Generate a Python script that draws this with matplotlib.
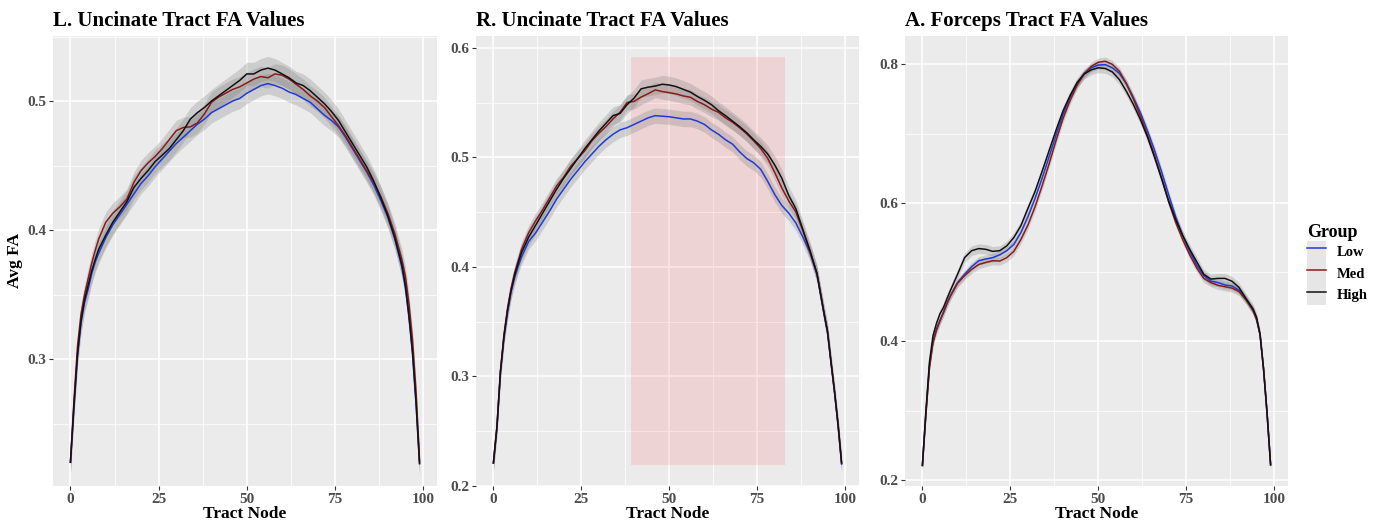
import matplotlib
matplotlib.use('Agg')
import matplotlib.pyplot as plt
from matplotlib.patches import Rectangle, Patch
from matplotlib.lines import Line2D
from matplotlib.legend_handler import HandlerTuple
from matplotlib.ticker import FormatStrFormatter, MultipleLocator

# ---------------- data ----------------
nodes = [0, 1, 2, 3, 4, 5, 6, 7, 8, 10, 12, 14, 16, 18, 20, 22, 24, 26, 28, 30,
         32, 34, 36, 38, 40, 42, 44, 46, 48, 50, 52, 54, 56, 58, 60, 62, 64, 66,
         68, 70, 72, 74, 76, 78, 80, 82, 84, 86, 88, 90, 92, 94, 95, 96, 97, 98, 99]

groups = ['Low', 'Med', 'High']

# L. Uncinate
L_low = [.220, .262, .302, .328, .344, .354, .366, .375, .382, .394, .404, .412, .420, .428, .436, .442, .449, .455, .461, .467,
         .472, .477, .482, .486, .491, .494, .497, .500, .502, .506, .509, .512, .5135, .512, .510, .507, .505, .502,
         .499, .494, .489, .485, .480, .472, .463, .454, .445, .435, .423, .410, .393, .371, .355, .332, .304, .265, .219]
L_med = [.220, .268, .310, .335, .350, .362, .374, .384, .393, .406, .413, .418, .424, .437, .446, .452, .457, .463, .470, .477,
         .4795, .480, .483, .490, .499, .503, .506, .509, .511, .514, .517, .519, .518, .521, .520, .517, .513, .509,
         .504, .500, .495, .488, .481, .473, .464, .455, .446, .437, .426, .413, .397, .377, .364, .343, .315, .275, .221]
L_high = [.220, .265, .304, .330, .346, .357, .368, .377, .385, .396, .406, .414, .422, .433, .440, .446, .453, .458, .463, .470,
          .477, .486, .491, .495, .500, .504, .508, .512, .516, .521, .521, .524, .5255, .524, .521, .518, .514, .512,
          .508, .503, .498, .492, .485, .476, .467, .458, .449, .438, .425, .411, .394, .373, .357, .334, .306, .267, .219]

# R. Uncinate
R_low = [.221, .253, .304, .335, .358, .377, .390, .400, .409, .423, .431, .441, .451, .462, .471, .480, .488, .496, .503, .510,
         .516, .521, .525, .527, .530, .533, .536, .538, .5375, .537, .536, .535, .535, .533, .530, .525, .521, .516,
         .512, .505, .499, .495, .489, .478, .466, .456, .449, .440, .427, .413, .393, .357, .340, .312, .285, .255, .220]
R_med = [.221, .254, .305, .338, .362, .380, .394, .405, .416, .431, .442, .452, .463, .474, .482, .492, .499, .506, .515, .522,
         .528, .535, .541, .550, .551, .555, .558, .5615, .560, .559, .5578, .556, .5548, .551, .548, .544, .541, .536,
         .532, .527, .5215, .515, .508, .499, .486, .472, .460, .450, .433, .414, .394, .358, .341, .313, .286, .256, .221]
R_high = [.221, .254, .304, .337, .360, .378, .392, .403, .413, .427, .438, .449, .460, .471, .481, .490, .499, .508, .516, .524,
          .531, .538, .540, .548, .554, .5625, .564, .565, .5667, .566, .5645, .562, .5595, .5555, .552, .548, .5425, .538,
          .533, .528, .5225, .516, .510, .503, .493, .481, .465, .453, .434, .415, .394, .358, .341, .313, .286, .256, .221]

# A. Forceps
F_low = [.221, .297, .365, .400, .418, .430, .442, .455, .466, .485, .497, .508, .5165, .519, .521, .525, .531, .540, .557, .580,
         .606, .635, .666, .698, .728, .753, .772, .787, .795, .799, .7995, .795, .787, .772, .752, .730, .704, .676,
         .645, .612, .580, .553, .530, .510, .495, .487, .485, .4815, .480, .474, .461, .445, .432, .410, .360, .296, .222]
F_med = [.221, .295, .362, .398, .416, .430, .442, .455, .466, .484, .495, .504, .511, .514, .5165, .516, .521, .530, .547, .568,
         .594, .624, .656, .690, .722, .748, .770, .786, .797, .803, .8045, .800, .790, .772, .750, .725, .698, .668,
         .636, .602, .572, .547, .525, .506, .491, .485, .481, .479, .477, .472, .460, .445, .432, .410, .360, .296, .222]
F_high = [.221, .300, .370, .408, .426, .440, .449, .462, .474, .497, .521, .531, .534, .533, .530, .531, .538, .550, .567, .592,
          .616, .645, .675, .705, .733, .755, .774, .786, .792, .795, .794, .789, .778, .761, .742, .720, .695, .666,
          .635, .603, .576, .553, .533, .515, .497, .490, .491, .491, .487, .478, .462, .447, .435, .410, .360, .296, .222]

# standard-error half widths of the ribbons (Low, Med, High)
se_L = [0.008, 0.008, 0.009]
se_R = [0.007, 0.007, 0.008]
se_F = [0.006, 0.006, 0.007]

# highlighted region in the right uncinate panel
highlight_nodes = [39, 83]
highlight_fa = [0.219, 0.5915]

titles = ['L. Uncinate Tract FA Values', 'R. Uncinate Tract FA Values', 'A. Forceps Tract FA Values']

# ---------------- style ----------------
colors = ['#1f3bd8', '#8b1a1a', '#111111']
FONT = 'Liberation Serif'
plt.rcParams['font.family'] = [FONT, 'DejaVu Serif']
plt.rcParams['font.weight'] = 'bold'

W, H = 1377, 521
fig = plt.figure(figsize=(W / 100, H / 100), dpi=100)


def px_axes(x0, x1, y0, y1):
    return fig.add_axes([x0 / W, 1 - y1 / H, (x1 - x0) / W, (y1 - y0) / H])


panels = [
    dict(box=(53, 437), data=[L_low, L_med, L_high], se=se_L, ylim=(0.2016, 0.5504),
         major=0.1, minor=0.05),
    dict(box=(476, 859), data=[R_low, R_med, R_high], se=se_R, ylim=(0.2, 0.6107),
         major=0.1, minor=0.05),
    dict(box=(905, 1288), data=[F_low, F_med, F_high], se=se_F, ylim=(0.1913, 0.8409),
         major=0.2, minor=0.1),
]

axes = []
for i, p in enumerate(panels):
    ax = px_axes(p['box'][0], p['box'][1], 36, 486)
    axes.append(ax)
    ax.set_facecolor('#EBEBEB')
    for s in ax.spines.values():
        s.set_visible(False)
    ax.set_xlim(-4.95, 103.95)
    ax.set_ylim(*p['ylim'])
    ax.xaxis.set_major_locator(MultipleLocator(25))
    ax.xaxis.set_minor_locator(MultipleLocator(12.5))
    ax.yaxis.set_major_locator(MultipleLocator(p['major']))
    ax.yaxis.set_minor_locator(MultipleLocator(p['minor']))
    ax.yaxis.set_major_formatter(FormatStrFormatter('%.1f'))
    ax.grid(which='major', color='white', lw=1.1)
    ax.grid(which='minor', color='white', lw=0.55)
    ax.set_axisbelow(True)
    ax.tick_params(which='major', length=3, width=0.8, color='#333333',
                   labelcolor='#4D4D4D', labelsize=11, pad=2)
    ax.tick_params(which='minor', length=0)
    for lab in ax.get_xticklabels() + ax.get_yticklabels():
        lab.set_fontweight('bold')

    if i == 1:
        ax.add_patch(Rectangle((highlight_nodes[0], highlight_fa[0]),
                               highlight_nodes[1] - highlight_nodes[0],
                               highlight_fa[1] - highlight_fa[0],
                               facecolor=(1.0, 0.0, 0.0, 0.10), edgecolor='none', zorder=1))

    for vals, se in zip(p['data'], p['se']):
        lo = [v - se for v in vals]
        hi = [v + se for v in vals]
        ax.fill_between(nodes, lo, hi, color='#808080', alpha=0.28, lw=0, zorder=2)
    for vals, c in zip(p['data'], colors):
        ax.plot(nodes, vals, color=c, lw=1.1, zorder=3)

    ax.set_xlabel('Tract Node', fontsize=12.5, fontweight='bold', labelpad=0)
    fig.text(p['box'][0] / W, 1 - 26 / H, titles[i], fontsize=15, fontweight='bold',
             ha='left', va='baseline')

axes[0].set_ylabel('Avg FA', fontsize=12.5, fontweight='bold', labelpad=3)

# legend
handles = [(Patch(facecolor='#E6E6E6', edgecolor='none'), Line2D([], [], color=c, lw=1.1))
           for c in colors]
leg = fig.legend(handles, groups, title='Group', loc='upper left',
                 bbox_to_anchor=(1295 / W, 1 - 212 / H), frameon=False,
                 handler_map={tuple: HandlerTuple(ndivide=1, pad=0)},
                 handlelength=1.35, handleheight=1.9, labelspacing=0.0,
                 handletextpad=0.7, borderpad=0.3,
                 prop={'family': FONT, 'weight': 'bold', 'size': 10.5},
                 title_fontproperties={'family': FONT, 'weight': 'bold', 'size': 13})
leg._legend_box.align = 'left'

fig.savefig('out.png', dpi=100, facecolor='white')
